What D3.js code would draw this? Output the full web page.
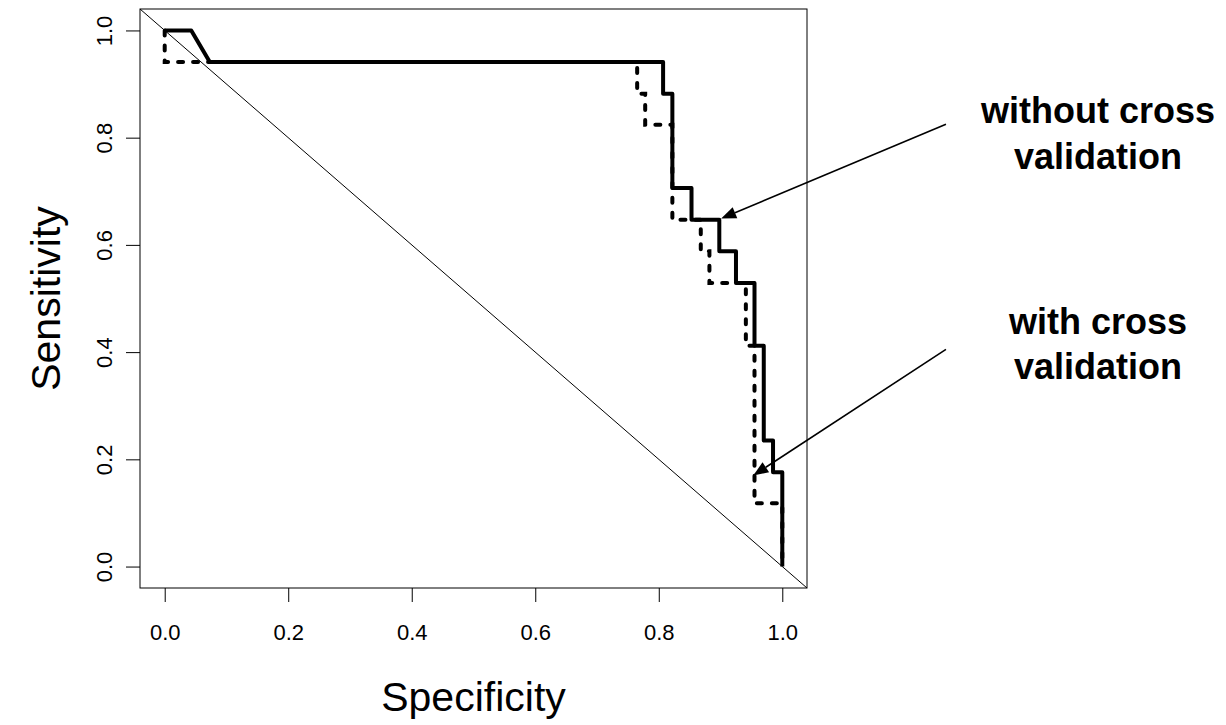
<!DOCTYPE html>
<meta charset="utf-8">
<script src="https://d3js.org/d3.v7.min.js"></script>
<style>
  body { margin: 0; background: #fff; }
  text { font-family: "Liberation Sans", Arial, sans-serif; fill: #000; }
</style>
<div id="my_dataviz"></div>
<script>

// ROC curve without cross validation (specificity, sensitivity)
var specNoCV = [0, 0.043, 0.073, 0.807, 0.807, 0.822, 0.822, 0.853, 0.853, 0.898, 0.898, 0.925, 0.925, 0.955, 0.955, 0.970, 0.970, 0.985, 0.985, 1.0, 1.0]
var sensNoCV = [1, 1, 0.941, 0.941, 0.882, 0.882, 0.706, 0.706, 0.647, 0.647, 0.588, 0.588, 0.529, 0.529, 0.412, 0.412, 0.235, 0.235, 0.176, 0.176, 0]

// ROC curve with cross validation
var specCV = [0, 0, 0.765, 0.765, 0.778, 0.778, 0.822, 0.822, 0.868, 0.868, 0.882, 0.882, 0.941, 0.941, 0.955, 0.955, 1.0, 1.0]
var sensCV = [1, 0.941, 0.941, 0.882, 0.882, 0.824, 0.824, 0.647, 0.647, 0.588, 0.588, 0.529, 0.529, 0.412, 0.412, 0.118, 0.118, 0]

var tickValues = [0, 0.2, 0.4, 0.6, 0.8, 1.0]
var tickLabels = ["0.0", "0.2", "0.4", "0.6", "0.8", "1.0"]

// arrows: [fromSpec, fromSens, toSpec, toSens]
var arrowNoCV = [1.265, 0.825, 0.901, 0.649]
var arrowCV = [1.265, 0.405, 0.953, 0.170]

var width = 1226
var height = 725

var svg = d3.select("#my_dataviz")
  .append("svg")
    .attr("width", width)
    .attr("height", height)

// plot box (R style 4% extension)
var x = d3.scaleLinear().domain([-0.04, 1.04]).range([140, 807])
var y = d3.scaleLinear().domain([-0.04, 1.04]).range([588, 9])

// diagonal reference line
svg.append("line")
  .attr("x1", x(-0.04)).attr("y1", y(1.04))
  .attr("x2", x(1.04)).attr("y2", y(-0.04))
  .attr("stroke", "black").attr("stroke-width", 1)

var line = d3.line()
  .x(function(d){ return x(d[0]) })
  .y(function(d){ return y(d[1]) })

svg.append("path")
  .datum(d3.zip(specCV, sensCV))
  .attr("d", line)
  .attr("fill", "none")
  .attr("stroke", "black")
  .attr("stroke-width", 4)
  .attr("stroke-dasharray", "5,10")
  .attr("stroke-linecap", "round")

svg.append("path")
  .datum(d3.zip(specNoCV, sensNoCV))
  .attr("d", line)
  .attr("fill", "none")
  .attr("stroke", "black")
  .attr("stroke-width", 4)
  .attr("stroke-linejoin", "round")

// box
svg.append("rect")
  .attr("x", x(-0.04)).attr("y", y(1.04))
  .attr("width", x(1.04) - x(-0.04))
  .attr("height", y(-0.04) - y(1.04))
  .attr("fill", "none").attr("stroke", "black").attr("stroke-width", 1)

// x axis
var xAxis = svg.append("g")
  .attr("transform", "translate(0," + y(-0.04) + ")")
  .call(d3.axisBottom(x).tickValues(tickValues).tickSize(14)
        .tickFormat(function(d, i){ return tickLabels[i] }))
xAxis.select(".domain").remove()
xAxis.selectAll("text").attr("dy", null).attr("y", 52).style("font-size", "22px")

// y axis
var yAxis = svg.append("g")
  .attr("transform", "translate(" + x(-0.04) + ",0)")
  .call(d3.axisLeft(y).tickValues(tickValues).tickSize(14)
        .tickFormat(function(d, i){ return tickLabels[i] }))
yAxis.select(".domain").remove()
yAxis.selectAll(".tick text")
  .attr("x", null).attr("dy", null)
  .attr("text-anchor", "middle")
  .attr("transform", "translate(-28,0) rotate(-90)")
  .style("font-size", "22px")
yAxis.selectAll("line").attr("stroke-width", 1)
xAxis.selectAll("line").attr("stroke-width", 1)

// axis titles
svg.append("text")
  .attr("x", (x(-0.04) + x(1.04)) / 2)
  .attr("y", 711)
  .attr("text-anchor", "middle")
  .style("font-size", "41px")
  .text("Specificity")

svg.append("text")
  .attr("transform", "translate(60," + (y(-0.04) + y(1.04)) / 2 + ") rotate(-90)")
  .attr("text-anchor", "middle")
  .style("font-size", "41px")
  .text("Sensitivity")

// arrows with filled heads
function drawArrow(a) {
  var x1 = x(a[0]), y1 = y(a[1]), x2 = x(a[2]), y2 = y(a[3])
  var ang = Math.atan2(y2 - y1, x2 - x1)
  var len = 15, half = 6
  var bx = x2 - len * Math.cos(ang), by = y2 - len * Math.sin(ang)
  svg.append("line")
    .attr("x1", x1).attr("y1", y1).attr("x2", bx).attr("y2", by)
    .attr("stroke", "black").attr("stroke-width", 1.6)
  var pts = [
    [x2, y2],
    [bx + half * Math.sin(ang), by - half * Math.cos(ang)],
    [bx - half * Math.sin(ang), by + half * Math.cos(ang)]
  ]
  svg.append("polygon")
    .attr("points", pts.map(function(p){ return p.join(",") }).join(" "))
    .attr("fill", "black")
}
drawArrow(arrowNoCV)
drawArrow(arrowCV)

// annotation labels
var labels = [
  {t: "without cross", x: 1098, y: 123},
  {t: "validation", x: 1098, y: 169},
  {t: "with cross", x: 1098, y: 334},
  {t: "validation", x: 1098, y: 379}
]
svg.selectAll(".annot")
  .data(labels)
  .enter()
  .append("text")
    .attr("class", "annot")
    .attr("x", function(d){ return d.x })
    .attr("y", function(d){ return d.y })
    .attr("text-anchor", "middle")
    .style("font-size", "36px")
    .style("font-weight", "bold")
    .text(function(d){ return d.t })

</script>
